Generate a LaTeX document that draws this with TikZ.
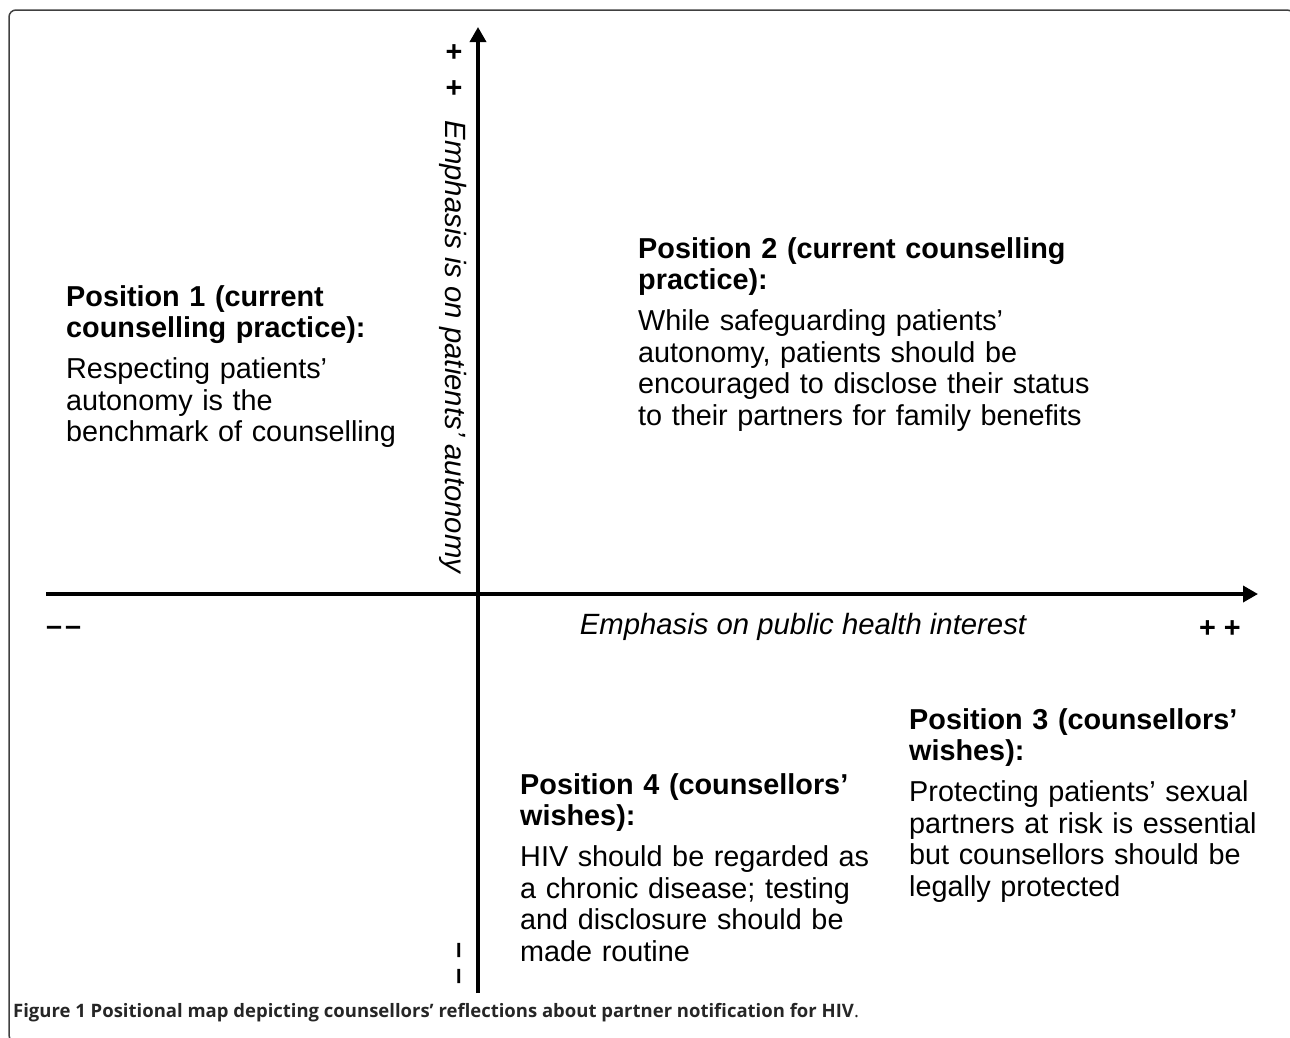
\documentclass[tikz,border=0pt]{standalone}
\usepackage{fontspec}
\setmainfont{Liberation Sans}
\newfontfamily\capfont{Open Sans}
\usetikzlibrary{arrows.meta}

\tikzset{
    axis/.style={line width=3.5pt, -{Triangle[length=15pt,width=16pt]}},
    posbox/.style={anchor=base west, inner sep=0pt, text width=500pt, align=left,
        font=\fontsize{28.8}{31.7}\selectfont},
    sign/.style={inner sep=0pt, font=\fontsize{28.8}{36}\selectfont\bfseries},
    axislabel/.style={anchor=base, inner sep=0pt, font=\fontsize{29.3}{32}\selectfont\itshape},
}

\begin{document}
\begin{tikzpicture}[x=1pt,y=-1pt]
    \useasboundingbox (0,0) rectangle (1290,1037);
    % frame
    \draw [black!75, line width=1.5pt, rounded corners=7pt] (9,10) rectangle (1294,1042);

    % axes
    \coordinate (ybot) at (478,993);
    \coordinate (ytop) at (478,27);
    \coordinate (xleft) at (46,594);
    \coordinate (xright) at (1258,594);
    \draw [axis] (ybot) -- (ytop);
    \draw [axis] (xleft) -- (xright);

    % ends of the axes
    \node [sign, anchor=base, align=center] (yplus) at (454,97) {+\\+};
    \node [sign, anchor=base, rotate=-90] (yminus) at (451.4,963.5) {–\kern10pt–};
    \node [sign, anchor=base west] (xminus) at (46,635) {–\kern3pt–};
    \node [sign, anchor=base] (xplus) at (1220,637) {+ +};

    % axis labels
    \node [axislabel, rotate=-90] (ylabel) at (445,347) {Emphasis is on patients’ autonomy};
    \node [axislabel] (xlabel) at (803,634) {Emphasis on public health interest};

    % positions
    \node [posbox] (pos1) at (66,306) {\textbf{Position 1 (current}\\
        \textbf{counselling practice):}\\[9pt]
        Respecting patients’\\
        autonomy is the\\
        benchmark of counselling};
    \node [posbox] (pos2) at (638,258) {\textbf{Position 2 (current counselling}\\
        \textbf{practice):}\\[9pt]
        While safeguarding patients’\\
        autonomy, patients should be\\
        encouraged to disclose their status\\
        to their partners for family benefits};
    \node [posbox] (pos3) at (909,729) {\textbf{Position 3 (counsellors’}\\
        \textbf{wishes):}\\[9pt]
        Protecting patients’ sexual\\
        partners at risk is essential\\
        but counsellors should be\\
        legally protected};
    \node [posbox] (pos4) at (520,794) {\textbf{Position 4 (counsellors’}\\
        \textbf{wishes):}\\[9pt]
        HIV should be regarded as\\
        a chronic disease; testing\\
        and disclosure should be\\
        made routine};

    % caption
    \node [anchor=base west, inner sep=0pt, text=black!85,
        font=\capfont\fontsize{18.5}{21}\selectfont] (caption) at (13,1017)
        {\textbf{Figure 1 Positional map depicting counsellors’ reflections about partner notification for HIV}.};
\end{tikzpicture}
\end{document}
